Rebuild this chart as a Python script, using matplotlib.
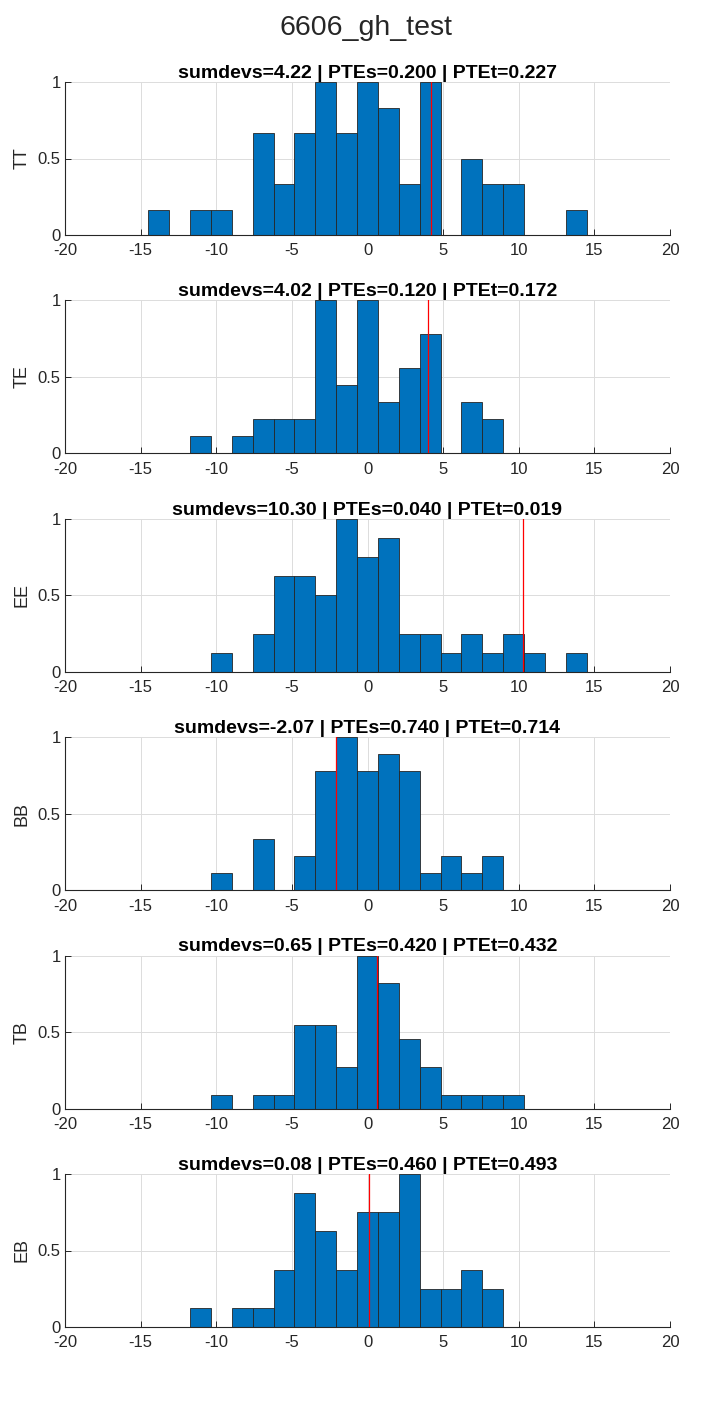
import matplotlib.pyplot as plt
import numpy as np

# === Data ===
SPECTRA = ["TT", "TE", "EE", "BB", "TB", "EB"]
SUMDEVS = [4.22, 4.02, 10.30, -2.07, 0.65, 0.08]
PTES = [0.200, 0.120, 0.040, 0.740, 0.420, 0.460]
PTET = [0.227, 0.172, 0.019, 0.714, 0.432, 0.493]

# counts of simulations per bin (29 bins between -20 and 20)
tt_counts = [0, 0, 0, 0, 1, 0, 1, 1, 0, 4, 2, 4, 6, 4, 6, 5, 2, 6, 0, 3, 2, 2, 0, 0, 1, 0, 0, 0, 0]
te_counts = [0, 0, 0, 0, 0, 0, 1, 0, 1, 2, 2, 2, 9, 4, 9, 3, 5, 7, 0, 3, 2, 0, 0, 0, 0, 0, 0, 0, 0]
ee_counts = [0, 0, 0, 0, 0, 0, 0, 1, 0, 2, 5, 5, 4, 8, 6, 7, 2, 2, 1, 2, 1, 2, 1, 0, 1, 0, 0, 0, 0]
bb_counts = [0, 0, 0, 0, 0, 0, 0, 1, 0, 3, 0, 2, 7, 9, 7, 8, 7, 1, 2, 1, 2, 0, 0, 0, 0, 0, 0, 0, 0]
tb_counts = [0, 0, 0, 0, 0, 0, 0, 1, 0, 1, 1, 6, 6, 3, 11, 9, 5, 3, 1, 1, 1, 1, 0, 0, 0, 0, 0, 0, 0]
eb_counts = [0, 0, 0, 0, 0, 0, 1, 0, 1, 1, 3, 7, 5, 3, 6, 6, 8, 2, 2, 3, 2, 0, 0, 0, 0, 0, 0, 0, 0]
COUNTS = [tt_counts, te_counts, ee_counts, bb_counts, tb_counts, eb_counts]

X_LIM = (-20, 20)
X_TICKS = [-20, -15, -10, -5, 0, 5, 10, 15, 20]
Y_TICKS = [0, 0.5, 1]
Y_TICKLABELS = ["0", "0.5", "1"]
EDGES = np.linspace(X_LIM[0], X_LIM[1], len(tt_counts) + 1)

# === Style ===
BAR_COLOR = "#0072BD"
AX_COLOR = "#262626"
plt.rcParams['font.family'] = ['Liberation Sans', 'DejaVu Sans']
plt.rcParams['axes.unicode_minus'] = False

W, H = 703, 1406
fig = plt.figure(figsize=(W / 100, H / 100), dpi=100)
fig.text(366 / W, 1 - 28 / H, "6606_gh_test", ha='center', va='center', fontsize=20.5, color=AX_COLOR)

left, right = 65, 670
top0, ax_h, step = 82, 153, 218.4

for i, (name, counts) in enumerate(zip(SPECTRA, COUNTS)):
    top = top0 + i * step
    ax = fig.add_axes([left / W, 1 - (top + ax_h) / H, (right - left) / W, ax_h / H])
    c = np.array(counts, dtype=float)
    vals = c / c.max()
    widths = np.diff(EDGES)
    ax.bar(EDGES[:-1], vals, width=widths, align='edge', color=BAR_COLOR,
           edgecolor=AX_COLOR, linewidth=0.6, zorder=2)
    ax.plot([SUMDEVS[i], SUMDEVS[i]], [0, 1], color='red', linewidth=0.9, zorder=3)
    ax.set_xlim(*X_LIM)
    ax.set_ylim(0, 1)
    ax.set_xticks(X_TICKS)
    ax.set_yticks(Y_TICKS)
    ax.set_yticklabels(Y_TICKLABELS)
    ax.grid(True, color='#dcdcdc', linewidth=0.7, zorder=0)
    ax.set_axisbelow(True)
    for s in ['top', 'right']:
        ax.spines[s].set_visible(False)
    for s in ['left', 'bottom']:
        ax.spines[s].set_color(AX_COLOR)
        ax.spines[s].set_linewidth(0.8)
    ax.tick_params(direction='in', length=4.3, width=0.7, colors=AX_COLOR, labelsize=12)
    ax.tick_params(axis='x', pad=6)
    ax.tick_params(axis='y', pad=3)
    ax.set_ylabel(name, fontsize=13, color=AX_COLOR, labelpad=5)
    ax.set_title(f"sumdevs={SUMDEVS[i]:.2f} | PTEs={PTES[i]:.3f} | PTEt={PTET[i]:.3f}",
                 fontsize=14, fontweight='bold', color='black', pad=3)

fig.savefig("out.png", dpi=100)
